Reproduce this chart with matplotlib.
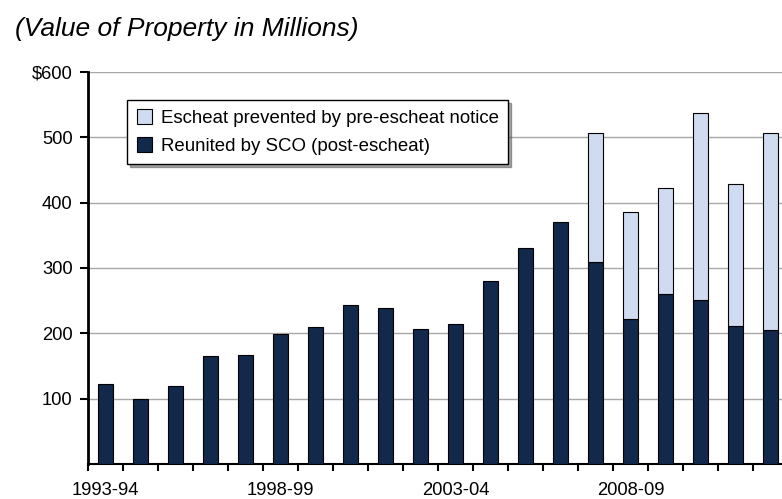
import numpy as np
import matplotlib.pyplot as plt
from matplotlib.ticker import FuncFormatter

plt.rcParams['font.family'] = ['Liberation Sans', 'DejaVu Sans']

years = ["1993-94", "1994-95", "1995-96", "1996-97", "1997-98", "1998-99",
         "1999-00", "2000-01", "2001-02", "2002-03", "2003-04", "2004-05",
         "2005-06", "2006-07", "2007-08", "2008-09", "2009-10", "2010-11",
         "2011-12", "2012-13"]
reunited = [123, 100, 119, 166, 167, 199, 209, 243, 239, 206, 214, 280,
            331, 370, 309, 222, 260, 251, 211, 205]
prevented = [0, 0, 0, 0, 0, 0, 0, 0, 0, 0, 0, 0,
             0, 0, 198, 163, 162, 287, 217, 301]
shown_labels = ["1993-94", "1998-99", "2003-04", "2008-09"]

dark = "#13294b"
light = "#cfdbf0"

fig = plt.figure(figsize=(7.82, 4.99), dpi=100)
ax = fig.add_axes([88 / 782, 35 / 499, 700 / 782, 392 / 499])

x = np.arange(len(years))
w = 0.42
ax.bar(x, reunited, w, color=dark, edgecolor="black", linewidth=0.8,
       label="Reunited by SCO (post-escheat)", zorder=3)
prev = np.array(prevented)
ax.bar(x[prev > 0], prev[prev > 0], w, bottom=np.array(reunited)[prev > 0],
       color=light, edgecolor="black", linewidth=0.8,
       label="Escheat prevented by pre-escheat notice", zorder=3)

ax.set_xlim(-0.5, len(years) - 0.5)
ax.set_ylim(0, 600)
ax.set_yticks([100, 200, 300, 400, 500, 600])
ax.yaxis.set_major_formatter(FuncFormatter(lambda v, p: "$600" if v == 600 else "%d" % v))
ax.yaxis.grid(True, color="#a8a8a8", linewidth=1.0, zorder=0)

ax.set_xticks([years.index(s) for s in shown_labels])
ax.set_xticklabels(shown_labels)
ax.set_xticks(np.arange(-0.5, len(years), 1.0), minor=True)
ax.tick_params(axis="x", which="major", length=0, labelsize=13.2, pad=13)
ax.tick_params(axis="x", which="minor", length=5, width=1.5, direction="out")
ax.tick_params(axis="y", length=6, width=1.5, labelsize=13.2, pad=5)

for s in ["top", "right"]:
    ax.spines[s].set_visible(False)
ax.spines["left"].set_linewidth(2)
ax.spines["bottom"].set_linewidth(1.5)

h, l = ax.get_legend_handles_labels()
leg = ax.legend(h[::-1], l[::-1], loc="upper left", bbox_to_anchor=(0.056, 0.929),
                fontsize=13.4, frameon=True, fancybox=False, shadow=True,
                edgecolor="black", framealpha=1, handlelength=0.85,
                handleheight=0.85, handletextpad=0.45, borderpad=0.5,
                labelspacing=0.55, borderaxespad=0)
leg.get_frame().set_linewidth(1.0)

fig.text(15 / 782, 1 - 29 / 499, "(Value of Property in Millions)", fontsize=19,
         style="italic", va="center", ha="left")

fig.savefig("out.png", dpi=100)
